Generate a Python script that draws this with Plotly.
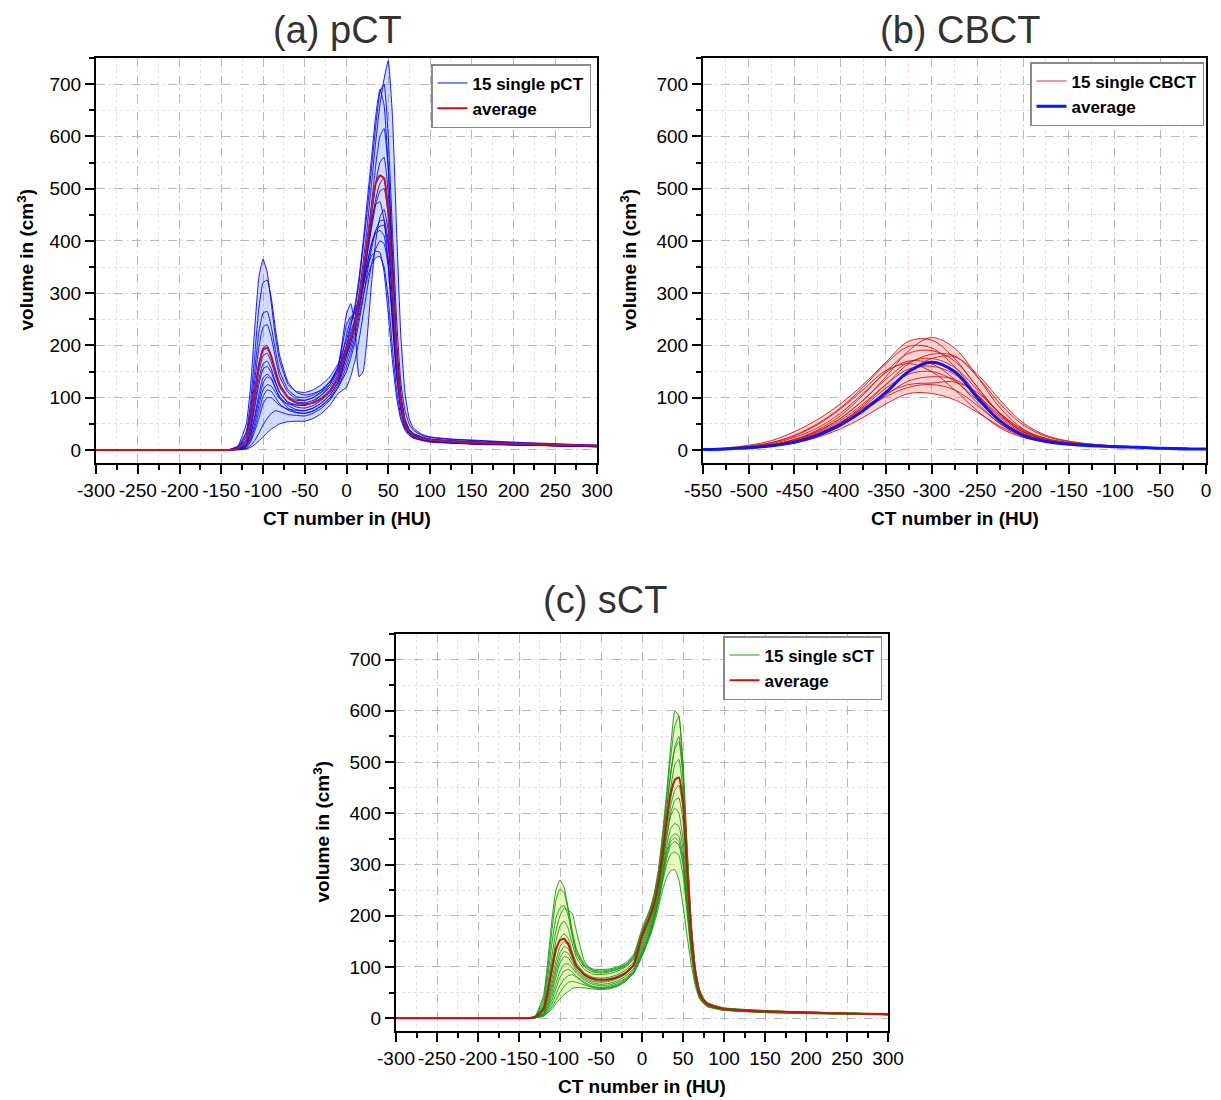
import numpy as np
import plotly.graph_objects as go

# ---------------- data ----------------
hu_ct = [-300, -150, -140, -130, -120, -115, -110, -105, -100, -95, -90, -85, -80, -70, -60, -50, -40, -30, -20, -10,
         0, 5, 10, 15, 20, 25, 30, 35, 40, 45, 50, 55, 60, 65, 70, 75, 80, 90, 100, 125, 150, 200, 250, 300]

pct_single = [
    [0,0,1,8,50,120,230,330,365,340,280,215,170,125,112,110,115,125,140,165,210,240,270,320,390,460,540,620,685,700,600,420,250,130,75,50,38,28,24,20,18,14,11,9],
    [0,0,1,6,35,90,180,270,320,325,290,230,180,130,110,105,108,115,130,150,185,215,250,300,360,430,510,590,660,710,745,640,420,220,110,60,42,30,25,21,19,15,12,9],
    [0,0,0,5,30,75,150,225,262,265,235,190,150,115,102,100,105,115,130,155,200,235,275,330,400,480,560,640,690,660,540,350,190,100,58,40,32,25,21,18,16,13,10,8],
    [0,0,0,4,25,65,130,195,235,240,215,175,140,110,98,95,100,110,125,150,220,250,265,290,340,400,470,545,600,615,540,380,210,110,60,40,30,24,20,17,15,12,10,8],
    [0,0,0,3,20,55,110,165,195,200,180,150,125,102,95,95,100,112,130,160,240,255,260,285,330,390,450,510,550,560,490,340,190,100,55,38,30,24,20,17,15,12,10,8],
    [0,0,0,3,18,50,100,150,180,185,168,142,120,100,92,90,95,105,120,145,200,225,250,285,330,380,430,480,510,520,460,330,190,100,55,38,29,23,19,16,14,11,9,7],
    [0,0,0,3,15,42,88,135,165,170,155,130,110,90,82,80,85,95,110,135,190,215,240,280,330,390,440,470,475,440,360,240,140,80,48,34,27,21,18,15,13,11,9,7],
    [0,0,0,2,12,38,80,125,155,160,148,128,110,92,86,85,92,105,125,160,260,280,240,140,150,220,320,400,445,460,420,300,170,90,50,35,27,21,18,15,13,11,9,7],
    [0,0,0,2,10,30,65,105,138,145,138,118,100,80,72,70,75,85,100,125,170,195,225,265,310,355,395,420,428,430,390,290,170,90,50,34,26,20,17,14,12,10,8,7],
    [0,0,0,2,10,28,60,95,128,140,135,118,102,85,77,75,80,90,105,130,180,205,235,275,315,350,372,380,378,340,260,170,100,58,38,28,23,19,16,13,12,10,8,6],
    [0,0,0,1,8,22,50,85,115,125,122,110,98,88,86,85,90,100,115,140,190,215,240,280,320,360,395,415,420,410,360,260,150,80,45,32,25,20,17,14,12,10,8,7],
    [0,0,0,1,6,18,42,72,102,115,112,100,88,76,71,70,74,84,98,120,160,185,215,255,295,330,355,368,370,350,290,195,115,65,40,29,23,18,15,13,11,9,8,6],
    [0,0,0,1,5,15,35,60,88,100,100,92,85,78,76,75,80,90,105,130,180,205,235,275,320,375,425,470,495,500,450,320,180,95,52,36,28,22,18,15,13,11,9,7],
    [0,0,0,1,3,8,18,32,48,60,70,75,73,68,66,65,70,80,95,120,150,175,205,245,290,340,385,420,438,440,400,290,165,88,48,33,25,20,17,14,12,10,8,7],
    [0,0,0,0,2,5,10,17,25,33,40,45,50,54,55,55,60,70,85,108,120,140,170,210,260,310,355,385,400,395,350,250,145,78,45,32,25,20,17,14,12,10,8,6],
]
pct_average = [0,0,0,3,18,55,110,160,192,195,178,150,125,100,90,88,90,98,112,140,195,215,240,285,340,400,460,510,525,520,455,320,180,95,52,36,28,22,19,16,14,12,10,8]

hu_cbct = [-550, -525, -500, -475, -450, -425, -400, -375, -350, -325, -300, -275, -250, -225, -200, -175, -150, -125, -100, -75, -50, -25, 0]

cbct_single = [
    [2,4,9,18,35,58,88,125,168,208,210,175,120,70,38,22,14,10,7,5,4,3,2],
    [1,2,5,10,20,36,60,95,140,190,215,195,140,80,40,22,14,10,7,5,4,3,2],
    [1,3,7,14,28,50,80,120,165,198,195,160,105,58,30,18,12,9,7,5,4,3,2],
    [1,2,5,10,20,38,65,105,150,185,190,170,120,68,34,19,12,9,7,5,4,3,2],
    [1,2,4,8,16,30,52,85,125,165,183,180,140,88,48,26,16,11,8,6,4,3,2],
    [1,2,4,7,14,26,45,75,112,150,175,178,145,95,52,28,17,11,8,6,4,3,2],
    [1,2,5,10,19,35,60,95,135,168,175,158,115,68,35,20,13,9,7,5,4,3,2],
    [1,3,6,12,24,42,70,108,148,170,165,135,90,50,27,16,11,8,6,5,4,3,2],
    [2,3,7,14,27,48,78,115,152,165,150,115,75,42,24,15,10,8,6,5,4,3,2],
    [1,2,5,9,18,33,56,88,125,155,160,145,105,62,32,18,12,9,7,5,4,3,2],
    [1,2,4,9,17,31,52,82,118,145,150,132,95,55,29,17,11,8,6,5,4,3,2],
    [1,2,4,8,15,27,46,74,105,132,140,135,105,65,35,20,13,9,7,5,4,3,2],
    [1,2,4,8,16,30,52,80,108,125,128,130,110,70,38,20,13,9,7,5,4,3,2],
    [1,2,4,8,15,28,48,75,102,120,125,115,85,50,27,16,11,8,6,5,4,3,2],
    [1,2,4,7,13,24,40,62,88,108,108,96,72,45,26,16,11,8,6,5,4,3,2],
]
cbct_average = [1,2,4,8,15,28,48,75,110,150,168,150,100,55,28,16,11,8,6,5,3,2,2]

sct_single = [
    [0,0,0,5,45,110,190,250,270,255,215,170,135,105,96,95,96,100,108,125,175,195,215,245,290,360,440,530,600,590,480,320,180,95,55,38,30,24,20,17,15,12,10,8],
    [0,0,0,4,38,95,170,230,252,245,210,165,130,102,94,92,94,98,105,122,170,190,210,240,285,350,430,510,570,590,500,340,190,100,57,39,30,24,20,17,15,12,10,8],
    [0,0,0,3,30,80,145,195,215,220,200,160,125,100,90,88,90,95,102,118,165,185,205,235,275,335,410,480,530,550,480,330,185,98,55,38,29,23,19,16,14,12,10,8],
    [0,0,0,3,25,65,120,170,200,215,210,205,170,110,92,90,92,96,104,120,168,190,210,240,280,340,410,475,525,540,470,320,180,95,54,37,29,23,19,16,14,12,10,8],
    [0,0,0,2,22,58,105,150,180,190,175,145,118,95,86,85,87,92,100,115,160,180,200,228,265,320,390,450,495,505,440,300,170,90,52,36,28,22,18,15,13,11,9,8],
    [0,0,0,2,18,48,88,128,155,165,155,130,108,88,80,78,80,85,94,110,155,175,198,225,262,315,380,430,465,470,420,290,165,88,50,35,27,22,18,15,13,11,9,7],
    [0,0,0,2,15,40,75,112,140,150,142,122,103,85,77,75,77,82,90,106,150,170,192,220,255,305,365,415,445,455,410,285,160,86,49,34,27,21,18,15,13,11,9,7],
    [0,0,0,1,12,35,65,100,128,140,135,118,100,83,75,72,74,79,88,104,145,165,188,215,250,300,355,400,425,430,385,270,155,84,48,34,26,21,17,14,12,10,9,7],
    [0,0,0,1,10,30,58,90,118,130,127,112,96,80,72,70,72,77,86,102,140,160,182,210,245,295,350,395,410,400,350,250,145,80,46,33,26,20,17,14,12,10,9,7],
    [0,0,0,1,9,26,50,80,108,120,118,106,92,77,69,66,68,73,82,98,135,155,178,205,240,285,335,370,380,375,330,235,140,78,45,32,25,20,17,14,12,10,9,7],
    [0,0,0,1,7,22,42,68,92,105,106,98,88,74,66,63,65,70,78,95,130,150,172,200,235,280,325,352,360,355,315,225,135,76,44,31,25,20,16,14,12,10,8,7],
    [0,0,0,1,6,18,35,58,80,92,95,90,82,70,62,60,62,67,76,92,128,148,170,198,232,275,318,345,352,345,305,220,132,74,43,31,24,19,16,14,12,10,8,7],
    [0,0,0,1,5,15,28,46,64,76,83,85,80,68,60,58,60,65,74,90,125,145,167,195,228,270,312,338,345,338,298,215,130,73,42,30,24,19,16,13,12,10,8,7],
    [0,0,0,1,4,10,18,28,38,46,52,58,60,59,57,56,57,62,72,88,122,142,164,192,225,265,300,320,325,318,280,205,125,70,41,30,23,19,16,13,11,9,8,7],
    [0,0,0,1,4,12,22,35,50,62,70,72,70,65,60,58,59,63,72,88,120,140,160,185,215,250,275,288,290,270,220,160,105,63,38,28,22,18,15,13,11,9,8,6],
]
sct_average = [0,0,0,2,18,50,95,135,152,155,145,122,102,85,77,75,76,80,88,105,160,180,200,225,265,320,385,440,465,470,420,290,165,88,50,35,27,22,18,15,13,11,9,8]

x_ticks_ct = [-300, -250, -200, -150, -100, -50, 0, 50, 100, 150, 200, 250, 300]
x_ticks_cbct = [-550, -500, -450, -400, -350, -300, -250, -200, -150, -100, -50, 0]
y_ticks = [0, 100, 200, 300, 400, 500, 600, 700]

titles = ["(a) pCT", "(b) CBCT", "(c) sCT"]
single_names = ["15 single pCT", "15 single CBCT", "15 single sCT"]

# ---------------- figure ----------------
W, H = 1221, 1100
FONT = "Liberation Sans, Arial, sans-serif"

def px(x):
    return x / W

def py(y):
    return 1 - y / H

fig = go.Figure()

panels = [
    dict(x=hu_ct, singles=pct_single, avg=pct_average, line="rgba(0,0,255,0.9)", leg_line="#5060ff",
         fill="rgba(90,130,255,0.28)", avg_col="#cc1010", avg_w=2, xa="x", ya="y", legend="legend",
         shape="spline", smooth=0.4, grid_minor="#e2e2e2"),
    dict(x=hu_cbct, singles=cbct_single, avg=cbct_average, line="rgba(210,20,20,0.9)", leg_line="#f07070",
         fill="rgba(255,120,120,0.32)", avg_col="#0a14ff", avg_w=3, xa="x2", ya="y2", legend="legend2",
         shape="spline", smooth=1.0, grid_minor="#f0d8dc"),
    dict(x=hu_ct, singles=sct_single, avg=sct_average, line="rgba(20,150,20,0.9)", leg_line="#66c066",
         fill="rgba(215,245,140,0.55)", avg_col="#d01010", avg_w=2, xa="x3", ya="y3", legend="legend3",
         shape="spline", smooth=0.4, grid_minor="#e2e2e2"),
]

for i, p in enumerate(panels):
    arr = np.array(p["singles"], dtype=float)
    lo = arr.min(axis=0)
    hi = arr.max(axis=0)
    fig.add_trace(go.Scatter(x=p["x"], y=lo, mode="lines", line=dict(width=0, shape=p["shape"], smoothing=p["smooth"]),
                             xaxis=p["xa"], yaxis=p["ya"], showlegend=False, hoverinfo="skip"))
    fig.add_trace(go.Scatter(x=p["x"], y=hi, mode="lines", line=dict(width=0, shape=p["shape"], smoothing=p["smooth"]),
                             fill="tonexty", fillcolor=p["fill"],
                             xaxis=p["xa"], yaxis=p["ya"], showlegend=False, hoverinfo="skip"))
    for k, ys in enumerate(p["singles"]):
        fig.add_trace(go.Scatter(x=p["x"], y=ys, mode="lines",
                                 line=dict(color=p["line"], width=1, shape=p["shape"], smoothing=p["smooth"]),
                                 name=single_names[i], legend=p["legend"], showlegend=False,
                                 xaxis=p["xa"], yaxis=p["ya"]))
    fig.add_trace(go.Scatter(x=[None], y=[None], mode="lines", line=dict(color=p["leg_line"], width=1.5),
                             name=single_names[i], legend=p["legend"], xaxis=p["xa"], yaxis=p["ya"]))
    fig.add_trace(go.Scatter(x=p["x"], y=p["avg"], mode="lines",
                             line=dict(color=p["avg_col"], width=p["avg_w"], shape=p["shape"], smoothing=p["smooth"]),
                             name="average", legend=p["legend"], xaxis=p["xa"], yaxis=p["ya"]))

def lab(v):
    return str(v)

def xaxis_def(dom, rng, anchor, ticks_list, gm):
    return dict(domain=dom, range=rng, anchor=anchor, tickmode="array", tickvals=ticks_list,
                ticktext=[lab(v) for v in ticks_list], tickangle=0, automargin=False,
                ticks="outside", ticklen=9, tickwidth=1.5,
                tickcolor="black", showline=True, linecolor="black", linewidth=2, mirror=True,
                showgrid=True, gridcolor="#b8b8b8", griddash="dash", gridwidth=1, zeroline=False,
                tickfont=dict(family=FONT, size=19, color="black"),
                minor=dict(dtick=25, tick0=0, ticks="outside", ticklen=5, tickcolor="black", tickwidth=1.5,
                           showgrid=True, gridcolor=gm, griddash="dot", gridwidth=1))

def yaxis_def(dom, anchor, gm):
    return dict(domain=dom, range=[-25, 750], anchor=anchor, tickmode="array", tickvals=y_ticks,
                ticktext=[lab(v) for v in y_ticks], automargin=False,
                ticks="outside", ticklen=9,
                tickwidth=1.5, tickcolor="black", showline=True, linecolor="black", linewidth=2, mirror=True,
                showgrid=True, gridcolor="#b8b8b8", griddash="dash", gridwidth=1, zeroline=False,
                tickfont=dict(family=FONT, size=19, color="black"),
                minor=dict(dtick=50, tick0=0, ticks="outside", ticklen=5, tickcolor="black", tickwidth=1.5,
                           showgrid=True, gridcolor=gm, griddash="dot", gridwidth=1))

A = dict(l=96, r=597, t=58, b=463)
B = dict(l=703, r=1206, t=58, b=463)
C = dict(l=396, r=888, t=634, b=1031)

def dx(a):
    return [px(a["l"]), px(a["r"])]

def dy(a):
    return [py(a["b"]), py(a["t"])]

legend_common = dict(bgcolor="white", bordercolor="#8a8a8a", borderwidth=1.5, xanchor="right", yanchor="top",
                     font=dict(family=FONT, size=17, color="black", weight="bold"), tracegroupgap=0,
                     itemwidth=30, traceorder="normal")

fig.update_layout(
    width=W, height=H, margin=dict(l=0, r=0, t=0, b=0, autoexpand=False),
    paper_bgcolor="white", plot_bgcolor="white",
    xaxis=xaxis_def(dx(A), [-300, 300], "y", x_ticks_ct, panels[0]["grid_minor"]),
    yaxis=yaxis_def(dy(A), "x", panels[0]["grid_minor"]),
    xaxis2=xaxis_def(dx(B), [-550, 0], "y2", x_ticks_cbct, panels[1]["grid_minor"]),
    yaxis2=yaxis_def(dy(B), "x2", panels[1]["grid_minor"]),
    xaxis3=xaxis_def(dx(C), [-300, 300], "y3", x_ticks_ct, panels[2]["grid_minor"]),
    yaxis3=yaxis_def(dy(C), "x3", panels[2]["grid_minor"]),
    legend=dict(legend_common, x=px(591), y=py(64)),
    legend2=dict(legend_common, x=px(1204), y=py(62)),
    legend3=dict(legend_common, x=px(882), y=py(636)),
)

anns = []
title_pos = [(337, 30), (960, 30), (605, 600)]
for t, (x, y) in zip(titles, title_pos):
    anns.append(dict(text=t, x=px(x), y=py(y), xref="paper", yref="paper", showarrow=False,
                     xanchor="center", yanchor="middle", font=dict(family=FONT, size=38, color="#333333")))
for a, ylab_x, xlab_y in [(A, 25, 518), (B, 628, 518), (C, 321, 1086)]:
    anns.append(dict(text="<b>CT number in (HU)</b>", x=px((a["l"] + a["r"]) / 2), y=py(xlab_y),
                     xref="paper", yref="paper", showarrow=False, xanchor="center", yanchor="middle",
                     font=dict(family=FONT, size=19, color="black")))
    anns.append(dict(text="<b>volume in (cm<sup>3</sup>)</b>", x=px(ylab_x), y=py((a["t"] + a["b"]) / 2),
                     xref="paper", yref="paper", showarrow=False, xanchor="center", yanchor="middle",
                     textangle=-90, font=dict(family=FONT, size=19, color="black")))
fig.update_layout(annotations=anns)

fig.write_html("out.html")
